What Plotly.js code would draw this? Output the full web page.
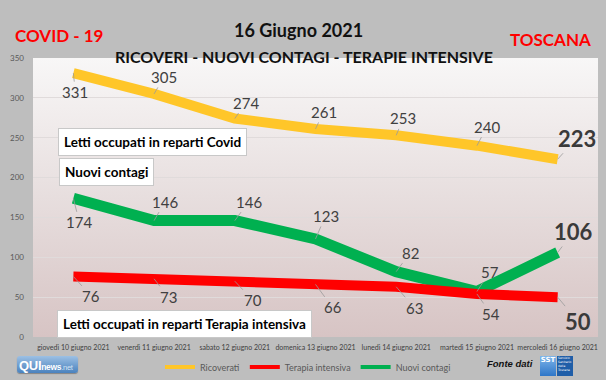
<!DOCTYPE html>
<html><head><meta charset="utf-8">
<script src="https://cdn.plot.ly/plotly-3.0.1.min.js"></script>
<style>
html,body{margin:0;padding:0;}
#wrap{position:relative;width:606px;height:380px;background:#BEBEBE;overflow:hidden;}
#bg{position:absolute;left:33px;top:58px;width:565px;height:279px;background:linear-gradient(#F8F7F7,#E7DEDE 50%,#D7C4C4);}
#chart{position:absolute;left:0;top:0;width:606px;height:380px;}
#qui{position:absolute;left:17px;top:356px;width:61px;height:17px;border-radius:3px;background:linear-gradient(#9CC0E4,#4A82BE);font-family:'Liberation Sans Narrow',sans-serif;color:#fff;line-height:17px;white-space:nowrap;box-shadow:0 1px 1px rgba(0,0,0,0.3);letter-spacing:-0.3px;}
#qui b{font-size:13px;margin-left:2px;}
#qui span{font-size:8.5px;font-weight:bold;}
#qui i{font-size:7.5px;color:#D5E4F4;font-style:normal;}
#sst{position:absolute;left:540px;top:356px;width:33px;height:20px;}
#sst .a{position:absolute;left:0;top:0;width:16px;height:20px;background:linear-gradient(#7FB6EA,#2E76C8);color:#fff;font:bold 7px 'DejaVu Sans',sans-serif;text-align:center;line-height:9px;}
#sst .b{position:absolute;left:17px;top:0;width:16px;height:20px;background:#1F5EA8;color:#fff;font:3px 'DejaVu Sans',sans-serif;line-height:4px;padding-left:1px;box-sizing:border-box;}
</style></head>
<body>
<div id="wrap">
<div id="bg"></div>
<div id="chart"></div>
<div id="qui"><b>QUI</b><span>news</span><i>.net</i></div>
<div id="sst"><div class="a">SST</div><div class="b">Servizio Sanitario della Toscana</div></div>
</div>
<script>
var days = ["giovedì 10 giugno 2021","venerdì 11 giugno 2021","sabato 12 giugno 2021","domenica 13 giugno 2021","lunedì 14 giugno 2021","martedì 15 giugno 2021","mercoledì 16 giugno 2021"];
var ricoverati = [331,305,274,261,253,240,223];
var terapia = [76,73,70,66,63,54,50];
var contagi = [174,146,146,123,82,57,106];
var seriesNames = ["Ricoverati","Terapia intensiva","Nuovi contagi"];
var yTicks = [0,50,100,150,200,250,300,350];

// label offsets (pixels) – styling only
var offR = [[2,19],[10,-17],[11,-16],[8,-17],[7,-17],[10,-19],[19,-21]];
var offT = [[18,20],[14,18],[18,19],[17,23],[18,21],[14,20],[20,24]];
var offC = [[6,24],[11,-19],[14,-19],[10,-23],[14,-19],[13,-20],[16,-21]];

var L=33, T=58, W=565, H=279;
function px(x){return (x-L)/W;}
function py(y){return (T+H-y)/H;}

var idx = days.map(function(d,i){return i;});
var colors = ["#FFC629","#FF0000","#00B050"];

var traces = [
  {x:idx,y:ricoverati,type:'scatter',mode:'lines',line:{color:colors[0],width:10},showlegend:false,hoverinfo:'y'},
  {x:idx,y:contagi,type:'scatter',mode:'lines',line:{color:colors[2],width:11},showlegend:false,hoverinfo:'y'},
  {x:idx,y:terapia,type:'scatter',mode:'lines',line:{color:colors[1],width:10},showlegend:false,hoverinfo:'y'}
];
[0,1,2].forEach(function(k){
  traces.push({x:[null],y:[null],type:'scatter',mode:'lines',name:seriesNames[k],line:{color:colors[k],width:4},showlegend:true,hoverinfo:'skip'});
});

var ann = [];
function addLabels(vals, offs){
  vals.forEach(function(v,i){
    var last = i===vals.length-1;
    ann.push({x:i,y:v,xref:'x',yref:'y',text:String(v),showarrow:true,arrowhead:0,arrowwidth:0.8,arrowcolor:'#9A9A9A',
      ax:offs[i][0],ay:offs[i][1],standoff:0,
      font:{family:'Lato, sans-serif',size:last?22:15,color:last?'#3A3A3A':'#404040',weight:last?'bold':'normal'}});
  });
}
addLabels(ricoverati,offR);
addLabels(terapia,offT);
addLabels(contagi,offC);

function box(text,xp,yp){
  ann.push({x:px(xp),y:py(yp),xref:'paper',yref:'paper',xanchor:'left',yanchor:'middle',text:'<b>'+text+'</b>',showarrow:false,
    bgcolor:'#FFFFFF',bordercolor:'#C8C8C8',borderwidth:1,borderpad:5,font:{family:'Lato, sans-serif',size:13.5,color:'#000'}});
}
box('Letti occupati in reparti Covid',58,142);
box('Nuovi contagi',59,172);
box('Letti occupati in reparti Terapia intensiva',57,324);

ann.push({x:px(298),y:py(17),xref:'paper',yref:'paper',text:'<b>16 Giugno 2021</b>',showarrow:false,font:{family:'Lato, sans-serif',size:18,color:'#111'}});
ann.push({x:px(304),y:py(45),xref:'paper',yref:'paper',text:'<b>RICOVERI - NUOVI CONTAGI - TERAPIE INTENSIVE</b>',showarrow:false,font:{family:'Lato, sans-serif',size:16,color:'#111'}});
ann.push({x:px(13),y:py(23),xref:'paper',yref:'paper',xanchor:'left',text:'<b>COVID - 19</b>',showarrow:false,font:{family:'Lato, sans-serif',size:17,color:'#FF0000'}});
ann.push({x:px(593),y:py(27),xref:'paper',yref:'paper',xanchor:'right',text:'<b>TOSCANA</b>',showarrow:false,font:{family:'Lato, sans-serif',size:17,color:'#FF0000'}});
ann.push({x:px(535),y:py(371),xref:'paper',yref:'paper',xanchor:'right',text:'<b><i>Fonte dati</i></b>',showarrow:false,font:{family:'Liberation Sans Narrow, sans-serif',size:9.5,color:'#111'}});

var layout = {
  width:606,height:380,
  margin:{l:L,r:606-L-W,t:T,b:380-T-H,autoexpand:false},
  paper_bgcolor:'rgba(0,0,0,0)',plot_bgcolor:'rgba(0,0,0,0)',
  showlegend:true,
  legend:{orientation:'h',x:px(160),y:py(367),xanchor:'left',yanchor:'middle',itemwidth:30,
    font:{family:'Lato, sans-serif',size:9,color:'#595959'},bgcolor:'rgba(0,0,0,0)',traceorder:'normal',itemclick:false},
  xaxis:{range:[-0.5,6.5],tickvals:idx,ticktext:days,tickangle:0,tickfont:{family:'Lato, sans-serif',size:7,color:'#404040'},
    showgrid:false,zeroline:false,showline:false,ticks:'',ticklabelstandoff:5,fixedrange:true},
  yaxis:{range:[0,350],tickvals:yTicks,tickfont:{family:'Lato, sans-serif',size:8,color:'#595959'},
    gridcolor:'#E0DBDB',gridwidth:1,zeroline:false,showline:false,ticklabelstandoff:8,fixedrange:true},
  annotations:ann
};
Plotly.newPlot('chart',traces,layout,{displayModeBar:false,staticPlot:true});
</script>
</body></html>
